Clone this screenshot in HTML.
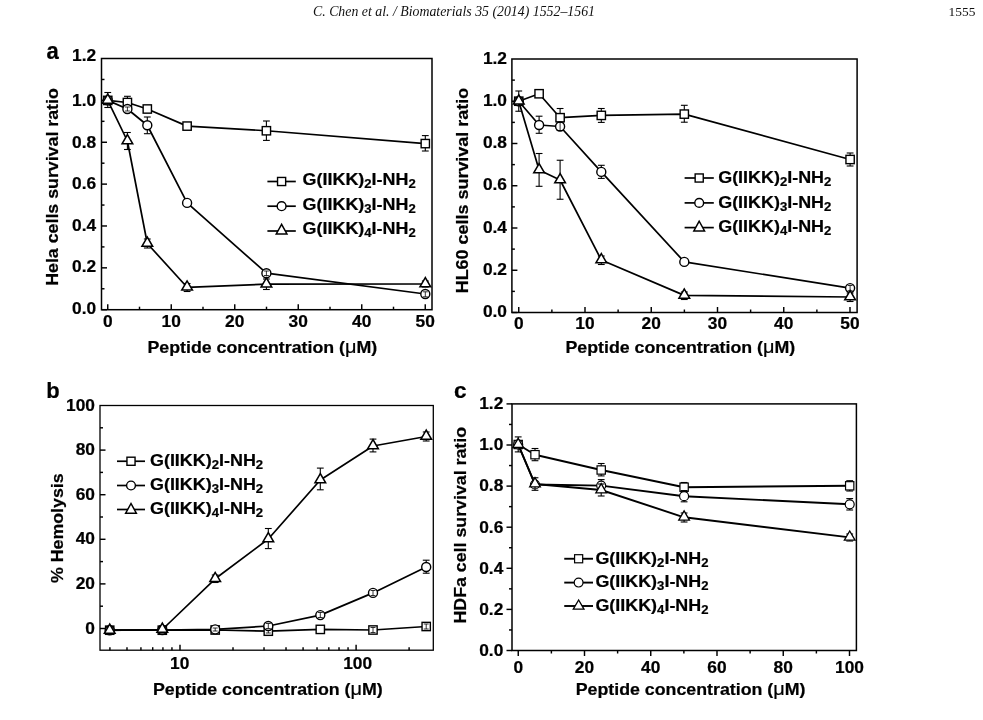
<!DOCTYPE html>
<html><head><meta charset="utf-8"><title>Figure</title>
<style>html,body{margin:0;padding:0;background:#fff}svg{display:block}</style></head><body>
<svg width="983" height="720" viewBox="0 0 983 720">
<rect width="983" height="720" fill="#fff"/>
<text transform="translate(313.00,15.80)" text-anchor="start" font-family='"Liberation Serif", serif' font-size="15" font-weight="normal" font-style="italic" textLength="282" lengthAdjust="spacingAndGlyphs" fill="#111">C. Chen et al. / Biomaterials 35 (2014) 1552–1561</text>
<text transform="translate(975.40,15.90)" text-anchor="end" font-family='"Liberation Serif", serif' font-size="13.4" font-weight="normal" font-style="normal" fill="#111">1555</text>
<text transform="translate(46.50,58.90) scale(0.94,1)" text-anchor="start" font-family='"Liberation Sans", sans-serif' font-size="23.5" font-weight="bold" font-style="normal" stroke="#000" stroke-width="0.22" >a</text>
<rect x="101.5" y="58.5" width="330.5" height="251.2" fill="none" stroke="#000" stroke-width="1.5"/>
<line x1="107.75" y1="309.70" x2="107.75" y2="304.20" stroke="#000" stroke-width="1.45"/>
<text transform="translate(107.75,326.50) scale(1.02,1)" text-anchor="middle" font-family='"Liberation Sans", sans-serif' font-size="17" font-weight="bold" font-style="normal" stroke="#000" stroke-width="0.22" >0</text>
<line x1="139.50" y1="309.70" x2="139.50" y2="306.70" stroke="#000" stroke-width="1.45"/>
<line x1="171.25" y1="309.70" x2="171.25" y2="304.20" stroke="#000" stroke-width="1.45"/>
<text transform="translate(171.25,326.50) scale(1.02,1)" text-anchor="middle" font-family='"Liberation Sans", sans-serif' font-size="17" font-weight="bold" font-style="normal" stroke="#000" stroke-width="0.22" >10</text>
<line x1="203.00" y1="309.70" x2="203.00" y2="306.70" stroke="#000" stroke-width="1.45"/>
<line x1="234.75" y1="309.70" x2="234.75" y2="304.20" stroke="#000" stroke-width="1.45"/>
<text transform="translate(234.75,326.50) scale(1.02,1)" text-anchor="middle" font-family='"Liberation Sans", sans-serif' font-size="17" font-weight="bold" font-style="normal" stroke="#000" stroke-width="0.22" >20</text>
<line x1="266.50" y1="309.70" x2="266.50" y2="306.70" stroke="#000" stroke-width="1.45"/>
<line x1="298.25" y1="309.70" x2="298.25" y2="304.20" stroke="#000" stroke-width="1.45"/>
<text transform="translate(298.25,326.50) scale(1.02,1)" text-anchor="middle" font-family='"Liberation Sans", sans-serif' font-size="17" font-weight="bold" font-style="normal" stroke="#000" stroke-width="0.22" >30</text>
<line x1="330.00" y1="309.70" x2="330.00" y2="306.70" stroke="#000" stroke-width="1.45"/>
<line x1="361.75" y1="309.70" x2="361.75" y2="304.20" stroke="#000" stroke-width="1.45"/>
<text transform="translate(361.75,326.50) scale(1.02,1)" text-anchor="middle" font-family='"Liberation Sans", sans-serif' font-size="17" font-weight="bold" font-style="normal" stroke="#000" stroke-width="0.22" >40</text>
<line x1="393.50" y1="309.70" x2="393.50" y2="306.70" stroke="#000" stroke-width="1.45"/>
<line x1="425.25" y1="309.70" x2="425.25" y2="304.20" stroke="#000" stroke-width="1.45"/>
<text transform="translate(425.25,326.50) scale(1.02,1)" text-anchor="middle" font-family='"Liberation Sans", sans-serif' font-size="17" font-weight="bold" font-style="normal" stroke="#000" stroke-width="0.22" >50</text>
<line x1="101.50" y1="309.70" x2="107.00" y2="309.70" stroke="#000" stroke-width="1.45"/>
<text transform="translate(96.20,313.70) scale(1.02,1)" text-anchor="end" font-family='"Liberation Sans", sans-serif' font-size="17" font-weight="bold" font-style="normal" stroke="#000" stroke-width="0.22" >0.0</text>
<line x1="101.50" y1="288.77" x2="104.50" y2="288.77" stroke="#000" stroke-width="1.45"/>
<line x1="101.50" y1="267.84" x2="107.00" y2="267.84" stroke="#000" stroke-width="1.45"/>
<text transform="translate(96.20,271.84) scale(1.02,1)" text-anchor="end" font-family='"Liberation Sans", sans-serif' font-size="17" font-weight="bold" font-style="normal" stroke="#000" stroke-width="0.22" >0.2</text>
<line x1="101.50" y1="246.91" x2="104.50" y2="246.91" stroke="#000" stroke-width="1.45"/>
<line x1="101.50" y1="225.98" x2="107.00" y2="225.98" stroke="#000" stroke-width="1.45"/>
<text transform="translate(96.20,230.58) scale(1.02,1)" text-anchor="end" font-family='"Liberation Sans", sans-serif' font-size="17" font-weight="bold" font-style="normal" stroke="#000" stroke-width="0.22" >0.4</text>
<line x1="101.50" y1="205.05" x2="104.50" y2="205.05" stroke="#000" stroke-width="1.45"/>
<line x1="101.50" y1="184.12" x2="107.00" y2="184.12" stroke="#000" stroke-width="1.45"/>
<text transform="translate(96.20,189.32) scale(1.02,1)" text-anchor="end" font-family='"Liberation Sans", sans-serif' font-size="17" font-weight="bold" font-style="normal" stroke="#000" stroke-width="0.22" >0.6</text>
<line x1="101.50" y1="163.19" x2="104.50" y2="163.19" stroke="#000" stroke-width="1.45"/>
<line x1="101.50" y1="142.26" x2="107.00" y2="142.26" stroke="#000" stroke-width="1.45"/>
<text transform="translate(96.20,147.56) scale(1.02,1)" text-anchor="end" font-family='"Liberation Sans", sans-serif' font-size="17" font-weight="bold" font-style="normal" stroke="#000" stroke-width="0.22" >0.8</text>
<line x1="101.50" y1="121.33" x2="104.50" y2="121.33" stroke="#000" stroke-width="1.45"/>
<line x1="101.50" y1="100.40" x2="107.00" y2="100.40" stroke="#000" stroke-width="1.45"/>
<text transform="translate(96.20,105.70) scale(1.02,1)" text-anchor="end" font-family='"Liberation Sans", sans-serif' font-size="17" font-weight="bold" font-style="normal" stroke="#000" stroke-width="0.22" >1.0</text>
<line x1="101.50" y1="79.47" x2="104.50" y2="79.47" stroke="#000" stroke-width="1.45"/>
<text transform="translate(96.20,61.34) scale(1.02,1)" text-anchor="end" font-family='"Liberation Sans", sans-serif' font-size="17" font-weight="bold" font-style="normal" stroke="#000" stroke-width="0.22" >1.2</text>
<text transform="translate(147.50,353.00) scale(1.078,1)" text-anchor="start" font-family='"Liberation Sans", sans-serif' font-size="16.5" font-weight="bold" font-style="normal" stroke="#000" stroke-width="0.22" >Peptide concentration (<tspan font-weight="normal" font-size="18.5">μ</tspan>M)</text>
<text transform="translate(57.60,285.80) rotate(-90) scale(1.078,1)" text-anchor="start" font-family='"Liberation Sans", sans-serif' font-size="16.5" font-weight="bold" font-style="normal" stroke="#000" stroke-width="0.22" >Hela cells survival ratio</text>
<polyline points="107.75,100.40 127.40,102.50 147.30,109.00 187.10,126.10 266.40,130.75 425.30,143.60" fill="none" stroke="#000" stroke-width="1.7" stroke-linejoin="round"/>
<line x1="127.40" y1="96.30" x2="127.40" y2="108.00" stroke="#000" stroke-width="1.1"/>
<line x1="124.00" y1="96.30" x2="130.80" y2="96.30" stroke="#000" stroke-width="1.1"/>
<line x1="124.00" y1="108.00" x2="130.80" y2="108.00" stroke="#000" stroke-width="1.1"/>
<line x1="147.30" y1="105.50" x2="147.30" y2="112.50" stroke="#000" stroke-width="1.1"/>
<line x1="143.90" y1="105.50" x2="150.70" y2="105.50" stroke="#000" stroke-width="1.1"/>
<line x1="143.90" y1="112.50" x2="150.70" y2="112.50" stroke="#000" stroke-width="1.1"/>
<line x1="187.10" y1="123.50" x2="187.10" y2="129.00" stroke="#000" stroke-width="1.1"/>
<line x1="183.70" y1="123.50" x2="190.50" y2="123.50" stroke="#000" stroke-width="1.1"/>
<line x1="183.70" y1="129.00" x2="190.50" y2="129.00" stroke="#000" stroke-width="1.1"/>
<line x1="266.40" y1="121.00" x2="266.40" y2="140.40" stroke="#000" stroke-width="1.1"/>
<line x1="263.00" y1="121.00" x2="269.80" y2="121.00" stroke="#000" stroke-width="1.1"/>
<line x1="263.00" y1="140.40" x2="269.80" y2="140.40" stroke="#000" stroke-width="1.1"/>
<line x1="425.30" y1="135.60" x2="425.30" y2="151.00" stroke="#000" stroke-width="1.1"/>
<line x1="421.90" y1="135.60" x2="428.70" y2="135.60" stroke="#000" stroke-width="1.1"/>
<line x1="421.90" y1="151.00" x2="428.70" y2="151.00" stroke="#000" stroke-width="1.1"/>
<rect x="103.60" y="96.25" width="8.3" height="8.3" fill="#fff" stroke="#000" stroke-width="1.4"/>
<rect x="123.25" y="98.35" width="8.3" height="8.3" fill="#fff" stroke="#000" stroke-width="1.4"/>
<rect x="143.15" y="104.85" width="8.3" height="8.3" fill="#fff" stroke="#000" stroke-width="1.4"/>
<rect x="182.95" y="121.95" width="8.3" height="8.3" fill="#fff" stroke="#000" stroke-width="1.4"/>
<rect x="262.25" y="126.60" width="8.3" height="8.3" fill="#fff" stroke="#000" stroke-width="1.4"/>
<rect x="421.15" y="139.45" width="8.3" height="8.3" fill="#fff" stroke="#000" stroke-width="1.4"/>
<polyline points="107.75,100.40 127.40,109.00 147.30,125.25 187.10,202.90 266.40,273.20 425.30,294.00" fill="none" stroke="#000" stroke-width="1.7" stroke-linejoin="round"/>
<line x1="127.40" y1="107.00" x2="127.40" y2="111.00" stroke="#000" stroke-width="1.1"/>
<line x1="124.00" y1="107.00" x2="130.80" y2="107.00" stroke="#000" stroke-width="1.1"/>
<line x1="124.00" y1="111.00" x2="130.80" y2="111.00" stroke="#000" stroke-width="1.1"/>
<line x1="147.30" y1="117.00" x2="147.30" y2="133.70" stroke="#000" stroke-width="1.1"/>
<line x1="143.90" y1="117.00" x2="150.70" y2="117.00" stroke="#000" stroke-width="1.1"/>
<line x1="143.90" y1="133.70" x2="150.70" y2="133.70" stroke="#000" stroke-width="1.1"/>
<line x1="266.40" y1="271.00" x2="266.40" y2="275.50" stroke="#000" stroke-width="1.1"/>
<line x1="263.00" y1="271.00" x2="269.80" y2="271.00" stroke="#000" stroke-width="1.1"/>
<line x1="263.00" y1="275.50" x2="269.80" y2="275.50" stroke="#000" stroke-width="1.1"/>
<line x1="425.30" y1="291.80" x2="425.30" y2="296.80" stroke="#000" stroke-width="1.1"/>
<line x1="421.90" y1="291.80" x2="428.70" y2="291.80" stroke="#000" stroke-width="1.1"/>
<line x1="421.90" y1="296.80" x2="428.70" y2="296.80" stroke="#000" stroke-width="1.1"/>
<circle cx="107.75" cy="100.40" r="4.5" fill="#fff" stroke="#000" stroke-width="1.4"/>
<circle cx="127.40" cy="109.00" r="4.5" fill="#fff" stroke="#000" stroke-width="1.4"/>
<circle cx="147.30" cy="125.25" r="4.5" fill="#fff" stroke="#000" stroke-width="1.4"/>
<circle cx="187.10" cy="202.90" r="4.5" fill="#fff" stroke="#000" stroke-width="1.4"/>
<circle cx="266.40" cy="273.20" r="4.5" fill="#fff" stroke="#000" stroke-width="1.4"/>
<circle cx="425.30" cy="294.00" r="4.5" fill="#fff" stroke="#000" stroke-width="1.4"/>
<line x1="127.40" y1="107.00" x2="127.40" y2="111.00" stroke="#000" stroke-width="0.8"/>
<line x1="124.90" y1="107.00" x2="129.90" y2="107.00" stroke="#000" stroke-width="0.8"/>
<line x1="124.90" y1="111.00" x2="129.90" y2="111.00" stroke="#000" stroke-width="0.8"/>
<line x1="266.40" y1="271.00" x2="266.40" y2="275.50" stroke="#000" stroke-width="0.8"/>
<line x1="263.90" y1="271.00" x2="268.90" y2="271.00" stroke="#000" stroke-width="0.8"/>
<line x1="263.90" y1="275.50" x2="268.90" y2="275.50" stroke="#000" stroke-width="0.8"/>
<line x1="425.30" y1="291.80" x2="425.30" y2="296.80" stroke="#000" stroke-width="0.8"/>
<line x1="422.80" y1="291.80" x2="427.80" y2="291.80" stroke="#000" stroke-width="0.8"/>
<line x1="422.80" y1="296.80" x2="427.80" y2="296.80" stroke="#000" stroke-width="0.8"/>
<polyline points="107.75,100.40 127.40,141.00 147.30,243.50 187.10,287.30 266.40,284.20 425.30,284.00" fill="none" stroke="#000" stroke-width="1.7" stroke-linejoin="round"/>
<line x1="107.75" y1="92.50" x2="107.75" y2="107.50" stroke="#000" stroke-width="1.1"/>
<line x1="104.35" y1="92.50" x2="111.15" y2="92.50" stroke="#000" stroke-width="1.1"/>
<line x1="104.35" y1="107.50" x2="111.15" y2="107.50" stroke="#000" stroke-width="1.1"/>
<line x1="127.40" y1="132.50" x2="127.40" y2="149.50" stroke="#000" stroke-width="1.1"/>
<line x1="124.00" y1="132.50" x2="130.80" y2="132.50" stroke="#000" stroke-width="1.1"/>
<line x1="124.00" y1="149.50" x2="130.80" y2="149.50" stroke="#000" stroke-width="1.1"/>
<line x1="147.30" y1="239.00" x2="147.30" y2="248.00" stroke="#000" stroke-width="1.1"/>
<line x1="143.90" y1="239.00" x2="150.70" y2="239.00" stroke="#000" stroke-width="1.1"/>
<line x1="143.90" y1="248.00" x2="150.70" y2="248.00" stroke="#000" stroke-width="1.1"/>
<line x1="187.10" y1="283.50" x2="187.10" y2="291.50" stroke="#000" stroke-width="1.1"/>
<line x1="183.70" y1="283.50" x2="190.50" y2="283.50" stroke="#000" stroke-width="1.1"/>
<line x1="183.70" y1="291.50" x2="190.50" y2="291.50" stroke="#000" stroke-width="1.1"/>
<line x1="266.40" y1="279.00" x2="266.40" y2="289.50" stroke="#000" stroke-width="1.1"/>
<line x1="263.00" y1="279.00" x2="269.80" y2="279.00" stroke="#000" stroke-width="1.1"/>
<line x1="263.00" y1="289.50" x2="269.80" y2="289.50" stroke="#000" stroke-width="1.1"/>
<line x1="425.30" y1="281.00" x2="425.30" y2="287.00" stroke="#000" stroke-width="1.1"/>
<line x1="421.90" y1="281.00" x2="428.70" y2="281.00" stroke="#000" stroke-width="1.1"/>
<line x1="421.90" y1="287.00" x2="428.70" y2="287.00" stroke="#000" stroke-width="1.1"/>
<polygon points="107.75,94.00 102.40,103.20 113.10,103.20" fill="#fff" stroke="#000" stroke-width="1.5" stroke-linejoin="miter"/>
<polygon points="127.40,134.60 122.05,143.80 132.75,143.80" fill="#fff" stroke="#000" stroke-width="1.5" stroke-linejoin="miter"/>
<polygon points="147.30,237.10 141.95,246.30 152.65,246.30" fill="#fff" stroke="#000" stroke-width="1.5" stroke-linejoin="miter"/>
<polygon points="187.10,280.90 181.75,290.10 192.45,290.10" fill="#fff" stroke="#000" stroke-width="1.5" stroke-linejoin="miter"/>
<polygon points="266.40,277.80 261.05,287.00 271.75,287.00" fill="#fff" stroke="#000" stroke-width="1.5" stroke-linejoin="miter"/>
<polygon points="425.30,277.60 419.95,286.80 430.65,286.80" fill="#fff" stroke="#000" stroke-width="1.5" stroke-linejoin="miter"/>
<line x1="267.40" y1="181.50" x2="295.80" y2="181.50" stroke="#000" stroke-width="1.7"/>
<rect x="277.55" y="177.45" width="8.1" height="8.1" fill="#fff" stroke="#000" stroke-width="1.4"/>
<text transform="translate(302.60,184.80) scale(1.067,1)" text-anchor="start" font-family='"Liberation Sans", sans-serif' font-size="16.8" font-weight="bold" font-style="normal" stroke="#000" stroke-width="0.22" >G(IIKK)<tspan font-size="12.3" dy="3.3">2</tspan><tspan dy="-3.3">I-NH</tspan><tspan font-size="12.3" dy="3.3">2</tspan></text>
<line x1="267.40" y1="206.20" x2="295.80" y2="206.20" stroke="#000" stroke-width="1.7"/>
<circle cx="281.60" cy="206.20" r="4.4" fill="#fff" stroke="#000" stroke-width="1.4"/>
<text transform="translate(302.60,209.50) scale(1.067,1)" text-anchor="start" font-family='"Liberation Sans", sans-serif' font-size="16.8" font-weight="bold" font-style="normal" stroke="#000" stroke-width="0.22" >G(IIKK)<tspan font-size="12.3" dy="3.3">3</tspan><tspan dy="-3.3">I-NH</tspan><tspan font-size="12.3" dy="3.3">2</tspan></text>
<line x1="267.40" y1="231.00" x2="295.80" y2="231.00" stroke="#000" stroke-width="1.7"/>
<polygon points="281.60,224.30 276.25,234.00 286.95,234.00" fill="#fff" stroke="#000" stroke-width="1.5" stroke-linejoin="miter"/>
<text transform="translate(302.60,234.00) scale(1.067,1)" text-anchor="start" font-family='"Liberation Sans", sans-serif' font-size="16.8" font-weight="bold" font-style="normal" stroke="#000" stroke-width="0.22" >G(IIKK)<tspan font-size="12.3" dy="3.3">4</tspan><tspan dy="-3.3">I-NH</tspan><tspan font-size="12.3" dy="3.3">2</tspan></text>
<rect x="511.9" y="59" width="345.20000000000005" height="253.5" fill="none" stroke="#000" stroke-width="1.5"/>
<line x1="518.75" y1="312.50" x2="518.75" y2="307.00" stroke="#000" stroke-width="1.45"/>
<text transform="translate(518.75,329.30) scale(1.02,1)" text-anchor="middle" font-family='"Liberation Sans", sans-serif' font-size="17" font-weight="bold" font-style="normal" stroke="#000" stroke-width="0.22" >0</text>
<line x1="551.88" y1="312.50" x2="551.88" y2="309.50" stroke="#000" stroke-width="1.45"/>
<line x1="585.00" y1="312.50" x2="585.00" y2="307.00" stroke="#000" stroke-width="1.45"/>
<text transform="translate(585.00,329.30) scale(1.02,1)" text-anchor="middle" font-family='"Liberation Sans", sans-serif' font-size="17" font-weight="bold" font-style="normal" stroke="#000" stroke-width="0.22" >10</text>
<line x1="618.12" y1="312.50" x2="618.12" y2="309.50" stroke="#000" stroke-width="1.45"/>
<line x1="651.25" y1="312.50" x2="651.25" y2="307.00" stroke="#000" stroke-width="1.45"/>
<text transform="translate(651.25,329.30) scale(1.02,1)" text-anchor="middle" font-family='"Liberation Sans", sans-serif' font-size="17" font-weight="bold" font-style="normal" stroke="#000" stroke-width="0.22" >20</text>
<line x1="684.38" y1="312.50" x2="684.38" y2="309.50" stroke="#000" stroke-width="1.45"/>
<line x1="717.50" y1="312.50" x2="717.50" y2="307.00" stroke="#000" stroke-width="1.45"/>
<text transform="translate(717.50,329.30) scale(1.02,1)" text-anchor="middle" font-family='"Liberation Sans", sans-serif' font-size="17" font-weight="bold" font-style="normal" stroke="#000" stroke-width="0.22" >30</text>
<line x1="750.62" y1="312.50" x2="750.62" y2="309.50" stroke="#000" stroke-width="1.45"/>
<line x1="783.75" y1="312.50" x2="783.75" y2="307.00" stroke="#000" stroke-width="1.45"/>
<text transform="translate(783.75,329.30) scale(1.02,1)" text-anchor="middle" font-family='"Liberation Sans", sans-serif' font-size="17" font-weight="bold" font-style="normal" stroke="#000" stroke-width="0.22" >40</text>
<line x1="816.88" y1="312.50" x2="816.88" y2="309.50" stroke="#000" stroke-width="1.45"/>
<line x1="850.00" y1="312.50" x2="850.00" y2="307.00" stroke="#000" stroke-width="1.45"/>
<text transform="translate(850.00,329.30) scale(1.02,1)" text-anchor="middle" font-family='"Liberation Sans", sans-serif' font-size="17" font-weight="bold" font-style="normal" stroke="#000" stroke-width="0.22" >50</text>
<line x1="511.90" y1="312.50" x2="517.40" y2="312.50" stroke="#000" stroke-width="1.45"/>
<text transform="translate(507.00,317.10) scale(1.02,1)" text-anchor="end" font-family='"Liberation Sans", sans-serif' font-size="17" font-weight="bold" font-style="normal" stroke="#000" stroke-width="0.22" >0.0</text>
<line x1="511.90" y1="291.38" x2="514.90" y2="291.38" stroke="#000" stroke-width="1.45"/>
<line x1="511.90" y1="270.25" x2="517.40" y2="270.25" stroke="#000" stroke-width="1.45"/>
<text transform="translate(507.00,274.85) scale(1.02,1)" text-anchor="end" font-family='"Liberation Sans", sans-serif' font-size="17" font-weight="bold" font-style="normal" stroke="#000" stroke-width="0.22" >0.2</text>
<line x1="511.90" y1="249.12" x2="514.90" y2="249.12" stroke="#000" stroke-width="1.45"/>
<line x1="511.90" y1="228.00" x2="517.40" y2="228.00" stroke="#000" stroke-width="1.45"/>
<text transform="translate(507.00,232.60) scale(1.02,1)" text-anchor="end" font-family='"Liberation Sans", sans-serif' font-size="17" font-weight="bold" font-style="normal" stroke="#000" stroke-width="0.22" >0.4</text>
<line x1="511.90" y1="206.88" x2="514.90" y2="206.88" stroke="#000" stroke-width="1.45"/>
<line x1="511.90" y1="185.75" x2="517.40" y2="185.75" stroke="#000" stroke-width="1.45"/>
<text transform="translate(507.00,190.35) scale(1.02,1)" text-anchor="end" font-family='"Liberation Sans", sans-serif' font-size="17" font-weight="bold" font-style="normal" stroke="#000" stroke-width="0.22" >0.6</text>
<line x1="511.90" y1="164.62" x2="514.90" y2="164.62" stroke="#000" stroke-width="1.45"/>
<line x1="511.90" y1="143.50" x2="517.40" y2="143.50" stroke="#000" stroke-width="1.45"/>
<text transform="translate(507.00,148.10) scale(1.02,1)" text-anchor="end" font-family='"Liberation Sans", sans-serif' font-size="17" font-weight="bold" font-style="normal" stroke="#000" stroke-width="0.22" >0.8</text>
<line x1="511.90" y1="122.38" x2="514.90" y2="122.38" stroke="#000" stroke-width="1.45"/>
<line x1="511.90" y1="101.25" x2="517.40" y2="101.25" stroke="#000" stroke-width="1.45"/>
<text transform="translate(507.00,105.85) scale(1.02,1)" text-anchor="end" font-family='"Liberation Sans", sans-serif' font-size="17" font-weight="bold" font-style="normal" stroke="#000" stroke-width="0.22" >1.0</text>
<line x1="511.90" y1="80.12" x2="514.90" y2="80.12" stroke="#000" stroke-width="1.45"/>
<text transform="translate(507.00,63.60) scale(1.02,1)" text-anchor="end" font-family='"Liberation Sans", sans-serif' font-size="17" font-weight="bold" font-style="normal" stroke="#000" stroke-width="0.22" >1.2</text>
<text transform="translate(565.50,353.40) scale(1.078,1)" text-anchor="start" font-family='"Liberation Sans", sans-serif' font-size="16.5" font-weight="bold" font-style="normal" stroke="#000" stroke-width="0.22" >Peptide concentration (<tspan font-weight="normal" font-size="18.5">μ</tspan>M)</text>
<text transform="translate(467.70,293.30) rotate(-90) scale(1.088,1)" text-anchor="start" font-family='"Liberation Sans", sans-serif' font-size="16.5" font-weight="bold" font-style="normal" stroke="#000" stroke-width="0.22" >HL60 cells survival ratio</text>
<polyline points="518.75,101.20 539.10,93.75 560.10,117.70 601.30,115.40 684.30,114.10 850.10,159.50" fill="none" stroke="#000" stroke-width="1.7" stroke-linejoin="round"/>
<line x1="560.10" y1="108.50" x2="560.10" y2="127.00" stroke="#000" stroke-width="1.1"/>
<line x1="556.70" y1="108.50" x2="563.50" y2="108.50" stroke="#000" stroke-width="1.1"/>
<line x1="556.70" y1="127.00" x2="563.50" y2="127.00" stroke="#000" stroke-width="1.1"/>
<line x1="601.30" y1="108.50" x2="601.30" y2="122.40" stroke="#000" stroke-width="1.1"/>
<line x1="597.90" y1="108.50" x2="604.70" y2="108.50" stroke="#000" stroke-width="1.1"/>
<line x1="597.90" y1="122.40" x2="604.70" y2="122.40" stroke="#000" stroke-width="1.1"/>
<line x1="684.30" y1="105.30" x2="684.30" y2="122.20" stroke="#000" stroke-width="1.1"/>
<line x1="680.90" y1="105.30" x2="687.70" y2="105.30" stroke="#000" stroke-width="1.1"/>
<line x1="680.90" y1="122.20" x2="687.70" y2="122.20" stroke="#000" stroke-width="1.1"/>
<line x1="850.10" y1="153.00" x2="850.10" y2="166.00" stroke="#000" stroke-width="1.1"/>
<line x1="846.70" y1="153.00" x2="853.50" y2="153.00" stroke="#000" stroke-width="1.1"/>
<line x1="846.70" y1="166.00" x2="853.50" y2="166.00" stroke="#000" stroke-width="1.1"/>
<rect x="514.60" y="97.05" width="8.3" height="8.3" fill="#fff" stroke="#000" stroke-width="1.4"/>
<rect x="534.95" y="89.60" width="8.3" height="8.3" fill="#fff" stroke="#000" stroke-width="1.4"/>
<rect x="555.95" y="113.55" width="8.3" height="8.3" fill="#fff" stroke="#000" stroke-width="1.4"/>
<rect x="597.15" y="111.25" width="8.3" height="8.3" fill="#fff" stroke="#000" stroke-width="1.4"/>
<rect x="680.15" y="109.95" width="8.3" height="8.3" fill="#fff" stroke="#000" stroke-width="1.4"/>
<rect x="845.95" y="155.35" width="8.3" height="8.3" fill="#fff" stroke="#000" stroke-width="1.4"/>
<polyline points="518.75,101.20 539.10,125.00 560.10,126.50 601.30,171.90 684.30,261.90 850.10,288.10" fill="none" stroke="#000" stroke-width="1.7" stroke-linejoin="round"/>
<line x1="539.10" y1="116.20" x2="539.10" y2="133.30" stroke="#000" stroke-width="1.1"/>
<line x1="535.70" y1="116.20" x2="542.50" y2="116.20" stroke="#000" stroke-width="1.1"/>
<line x1="535.70" y1="133.30" x2="542.50" y2="133.30" stroke="#000" stroke-width="1.1"/>
<line x1="560.10" y1="122.50" x2="560.10" y2="130.50" stroke="#000" stroke-width="1.1"/>
<line x1="556.70" y1="122.50" x2="563.50" y2="122.50" stroke="#000" stroke-width="1.1"/>
<line x1="556.70" y1="130.50" x2="563.50" y2="130.50" stroke="#000" stroke-width="1.1"/>
<line x1="601.30" y1="165.30" x2="601.30" y2="178.40" stroke="#000" stroke-width="1.1"/>
<line x1="597.90" y1="165.30" x2="604.70" y2="165.30" stroke="#000" stroke-width="1.1"/>
<line x1="597.90" y1="178.40" x2="604.70" y2="178.40" stroke="#000" stroke-width="1.1"/>
<line x1="850.10" y1="285.50" x2="850.10" y2="290.70" stroke="#000" stroke-width="1.1"/>
<line x1="846.70" y1="285.50" x2="853.50" y2="285.50" stroke="#000" stroke-width="1.1"/>
<line x1="846.70" y1="290.70" x2="853.50" y2="290.70" stroke="#000" stroke-width="1.1"/>
<circle cx="518.75" cy="101.20" r="4.5" fill="#fff" stroke="#000" stroke-width="1.4"/>
<circle cx="539.10" cy="125.00" r="4.5" fill="#fff" stroke="#000" stroke-width="1.4"/>
<circle cx="560.10" cy="126.50" r="4.5" fill="#fff" stroke="#000" stroke-width="1.4"/>
<circle cx="601.30" cy="171.90" r="4.5" fill="#fff" stroke="#000" stroke-width="1.4"/>
<circle cx="684.30" cy="261.90" r="4.5" fill="#fff" stroke="#000" stroke-width="1.4"/>
<circle cx="850.10" cy="288.10" r="4.5" fill="#fff" stroke="#000" stroke-width="1.4"/>
<line x1="560.10" y1="122.50" x2="560.10" y2="130.50" stroke="#000" stroke-width="0.8"/>
<line x1="557.60" y1="122.50" x2="562.60" y2="122.50" stroke="#000" stroke-width="0.8"/>
<line x1="557.60" y1="130.50" x2="562.60" y2="130.50" stroke="#000" stroke-width="0.8"/>
<line x1="850.10" y1="285.50" x2="850.10" y2="290.70" stroke="#000" stroke-width="0.8"/>
<line x1="847.60" y1="285.50" x2="852.60" y2="285.50" stroke="#000" stroke-width="0.8"/>
<line x1="847.60" y1="290.70" x2="852.60" y2="290.70" stroke="#000" stroke-width="0.8"/>
<polyline points="518.75,101.20 539.10,170.00 560.10,180.00 601.30,260.00 684.30,295.40 850.10,297.00" fill="none" stroke="#000" stroke-width="1.7" stroke-linejoin="round"/>
<line x1="518.75" y1="91.00" x2="518.75" y2="111.25" stroke="#000" stroke-width="1.1"/>
<line x1="515.35" y1="91.00" x2="522.15" y2="91.00" stroke="#000" stroke-width="1.1"/>
<line x1="515.35" y1="111.25" x2="522.15" y2="111.25" stroke="#000" stroke-width="1.1"/>
<line x1="539.10" y1="153.50" x2="539.10" y2="186.30" stroke="#000" stroke-width="1.1"/>
<line x1="535.70" y1="153.50" x2="542.50" y2="153.50" stroke="#000" stroke-width="1.1"/>
<line x1="535.70" y1="186.30" x2="542.50" y2="186.30" stroke="#000" stroke-width="1.1"/>
<line x1="560.10" y1="160.25" x2="560.10" y2="199.25" stroke="#000" stroke-width="1.1"/>
<line x1="556.70" y1="160.25" x2="563.50" y2="160.25" stroke="#000" stroke-width="1.1"/>
<line x1="556.70" y1="199.25" x2="563.50" y2="199.25" stroke="#000" stroke-width="1.1"/>
<line x1="601.30" y1="256.00" x2="601.30" y2="264.50" stroke="#000" stroke-width="1.1"/>
<line x1="597.90" y1="256.00" x2="604.70" y2="256.00" stroke="#000" stroke-width="1.1"/>
<line x1="597.90" y1="264.50" x2="604.70" y2="264.50" stroke="#000" stroke-width="1.1"/>
<line x1="684.30" y1="292.00" x2="684.30" y2="299.50" stroke="#000" stroke-width="1.1"/>
<line x1="680.90" y1="292.00" x2="687.70" y2="292.00" stroke="#000" stroke-width="1.1"/>
<line x1="680.90" y1="299.50" x2="687.70" y2="299.50" stroke="#000" stroke-width="1.1"/>
<line x1="850.10" y1="293.00" x2="850.10" y2="301.50" stroke="#000" stroke-width="1.1"/>
<line x1="846.70" y1="293.00" x2="853.50" y2="293.00" stroke="#000" stroke-width="1.1"/>
<line x1="846.70" y1="301.50" x2="853.50" y2="301.50" stroke="#000" stroke-width="1.1"/>
<polygon points="518.75,94.80 513.40,104.00 524.10,104.00" fill="#fff" stroke="#000" stroke-width="1.5" stroke-linejoin="miter"/>
<polygon points="539.10,163.60 533.75,172.80 544.45,172.80" fill="#fff" stroke="#000" stroke-width="1.5" stroke-linejoin="miter"/>
<polygon points="560.10,173.60 554.75,182.80 565.45,182.80" fill="#fff" stroke="#000" stroke-width="1.5" stroke-linejoin="miter"/>
<polygon points="601.30,253.60 595.95,262.80 606.65,262.80" fill="#fff" stroke="#000" stroke-width="1.5" stroke-linejoin="miter"/>
<polygon points="684.30,289.00 678.95,298.20 689.65,298.20" fill="#fff" stroke="#000" stroke-width="1.5" stroke-linejoin="miter"/>
<polygon points="850.10,290.60 844.75,299.80 855.45,299.80" fill="#fff" stroke="#000" stroke-width="1.5" stroke-linejoin="miter"/>
<line x1="684.60" y1="178.00" x2="713.80" y2="178.00" stroke="#000" stroke-width="1.7"/>
<rect x="695.15" y="173.95" width="8.1" height="8.1" fill="#fff" stroke="#000" stroke-width="1.4"/>
<text transform="translate(718.20,182.80) scale(1.067,1)" text-anchor="start" font-family='"Liberation Sans", sans-serif' font-size="16.8" font-weight="bold" font-style="normal" stroke="#000" stroke-width="0.22" >G(IIKK)<tspan font-size="12.3" dy="3.3">2</tspan><tspan dy="-3.3">I-NH</tspan><tspan font-size="12.3" dy="3.3">2</tspan></text>
<line x1="684.60" y1="202.90" x2="713.80" y2="202.90" stroke="#000" stroke-width="1.7"/>
<circle cx="699.20" cy="202.90" r="4.4" fill="#fff" stroke="#000" stroke-width="1.4"/>
<text transform="translate(718.20,207.60) scale(1.067,1)" text-anchor="start" font-family='"Liberation Sans", sans-serif' font-size="16.8" font-weight="bold" font-style="normal" stroke="#000" stroke-width="0.22" >G(IIKK)<tspan font-size="12.3" dy="3.3">3</tspan><tspan dy="-3.3">I-NH</tspan><tspan font-size="12.3" dy="3.3">2</tspan></text>
<line x1="684.60" y1="227.60" x2="713.80" y2="227.60" stroke="#000" stroke-width="1.7"/>
<polygon points="699.20,221.20 693.85,230.90 704.55,230.90" fill="#fff" stroke="#000" stroke-width="1.5" stroke-linejoin="miter"/>
<text transform="translate(718.20,231.60) scale(1.067,1)" text-anchor="start" font-family='"Liberation Sans", sans-serif' font-size="16.8" font-weight="bold" font-style="normal" stroke="#000" stroke-width="0.22" >G(IIKK)<tspan font-size="12.3" dy="3.3">4</tspan><tspan dy="-3.3">I-NH</tspan><tspan font-size="12.3" dy="3.3">2</tspan></text>
<text transform="translate(46.20,397.90) scale(0.98,1)" text-anchor="start" font-family='"Liberation Sans", sans-serif' font-size="22.4" font-weight="bold" font-style="normal" stroke="#000" stroke-width="0.22" >b</text>
<rect x="100" y="405.5" width="333.3" height="244.70000000000005" fill="none" stroke="#000" stroke-width="1.3"/>
<line x1="180.00" y1="650.20" x2="180.00" y2="644.70" stroke="#000" stroke-width="1.45"/>
<text transform="translate(179.70,668.60) scale(1.02,1)" text-anchor="middle" font-family='"Liberation Sans", sans-serif' font-size="17" font-weight="bold" font-style="normal" stroke="#000" stroke-width="0.22" >10</text>
<line x1="356.10" y1="650.20" x2="356.10" y2="644.70" stroke="#000" stroke-width="1.45"/>
<text transform="translate(357.60,668.60) scale(1.02,1)" text-anchor="middle" font-family='"Liberation Sans", sans-serif' font-size="17" font-weight="bold" font-style="normal" stroke="#000" stroke-width="0.22" >100</text>
<line x1="109.92" y1="650.20" x2="109.92" y2="647.20" stroke="#000" stroke-width="1.45"/>
<line x1="126.99" y1="650.20" x2="126.99" y2="647.20" stroke="#000" stroke-width="1.45"/>
<line x1="140.93" y1="650.20" x2="140.93" y2="647.20" stroke="#000" stroke-width="1.45"/>
<line x1="152.72" y1="650.20" x2="152.72" y2="647.20" stroke="#000" stroke-width="1.45"/>
<line x1="162.93" y1="650.20" x2="162.93" y2="647.20" stroke="#000" stroke-width="1.45"/>
<line x1="171.94" y1="650.20" x2="171.94" y2="647.20" stroke="#000" stroke-width="1.45"/>
<line x1="233.01" y1="650.20" x2="233.01" y2="647.20" stroke="#000" stroke-width="1.45"/>
<line x1="264.02" y1="650.20" x2="264.02" y2="647.20" stroke="#000" stroke-width="1.45"/>
<line x1="286.02" y1="650.20" x2="286.02" y2="647.20" stroke="#000" stroke-width="1.45"/>
<line x1="303.09" y1="650.20" x2="303.09" y2="647.20" stroke="#000" stroke-width="1.45"/>
<line x1="317.03" y1="650.20" x2="317.03" y2="647.20" stroke="#000" stroke-width="1.45"/>
<line x1="328.82" y1="650.20" x2="328.82" y2="647.20" stroke="#000" stroke-width="1.45"/>
<line x1="339.03" y1="650.20" x2="339.03" y2="647.20" stroke="#000" stroke-width="1.45"/>
<line x1="348.04" y1="650.20" x2="348.04" y2="647.20" stroke="#000" stroke-width="1.45"/>
<line x1="409.11" y1="650.20" x2="409.11" y2="647.20" stroke="#000" stroke-width="1.45"/>
<line x1="100.00" y1="628.50" x2="105.50" y2="628.50" stroke="#000" stroke-width="1.45"/>
<text transform="translate(95.00,633.60) scale(1.02,1)" text-anchor="end" font-family='"Liberation Sans", sans-serif' font-size="17" font-weight="bold" font-style="normal" stroke="#000" stroke-width="0.22" >0</text>
<line x1="100.00" y1="606.20" x2="103.00" y2="606.20" stroke="#000" stroke-width="1.45"/>
<line x1="100.00" y1="583.90" x2="105.50" y2="583.90" stroke="#000" stroke-width="1.45"/>
<text transform="translate(95.00,589.00) scale(1.02,1)" text-anchor="end" font-family='"Liberation Sans", sans-serif' font-size="17" font-weight="bold" font-style="normal" stroke="#000" stroke-width="0.22" >20</text>
<line x1="100.00" y1="561.60" x2="103.00" y2="561.60" stroke="#000" stroke-width="1.45"/>
<line x1="100.00" y1="539.30" x2="105.50" y2="539.30" stroke="#000" stroke-width="1.45"/>
<text transform="translate(95.00,544.40) scale(1.02,1)" text-anchor="end" font-family='"Liberation Sans", sans-serif' font-size="17" font-weight="bold" font-style="normal" stroke="#000" stroke-width="0.22" >40</text>
<line x1="100.00" y1="517.00" x2="103.00" y2="517.00" stroke="#000" stroke-width="1.45"/>
<line x1="100.00" y1="494.70" x2="105.50" y2="494.70" stroke="#000" stroke-width="1.45"/>
<text transform="translate(95.00,499.80) scale(1.02,1)" text-anchor="end" font-family='"Liberation Sans", sans-serif' font-size="17" font-weight="bold" font-style="normal" stroke="#000" stroke-width="0.22" >60</text>
<line x1="100.00" y1="472.40" x2="103.00" y2="472.40" stroke="#000" stroke-width="1.45"/>
<line x1="100.00" y1="450.10" x2="105.50" y2="450.10" stroke="#000" stroke-width="1.45"/>
<text transform="translate(95.00,455.20) scale(1.02,1)" text-anchor="end" font-family='"Liberation Sans", sans-serif' font-size="17" font-weight="bold" font-style="normal" stroke="#000" stroke-width="0.22" >80</text>
<line x1="100.00" y1="427.80" x2="103.00" y2="427.80" stroke="#000" stroke-width="1.45"/>
<text transform="translate(95.00,410.60) scale(1.02,1)" text-anchor="end" font-family='"Liberation Sans", sans-serif' font-size="17" font-weight="bold" font-style="normal" stroke="#000" stroke-width="0.22" >100</text>
<text transform="translate(153.00,694.70) scale(1.078,1)" text-anchor="start" font-family='"Liberation Sans", sans-serif' font-size="16.5" font-weight="bold" font-style="normal" stroke="#000" stroke-width="0.22" >Peptide concentration (<tspan font-weight="normal" font-size="18.5">μ</tspan>M)</text>
<text transform="translate(62.70,583.00) rotate(-90) scale(1.078,1)" text-anchor="start" font-family='"Liberation Sans", sans-serif' font-size="16.5" font-weight="bold" font-style="normal" stroke="#000" stroke-width="0.22" >% Hemolysis</text>
<polyline points="109.70,630.20 162.30,630.20 215.20,630.00 268.30,631.20 320.30,629.40 373.00,630.00 426.20,626.50" fill="none" stroke="#000" stroke-width="1.7" stroke-linejoin="round"/>
<line x1="268.30" y1="629.50" x2="268.30" y2="633.00" stroke="#000" stroke-width="1.1"/>
<line x1="264.90" y1="629.50" x2="271.70" y2="629.50" stroke="#000" stroke-width="1.1"/>
<line x1="264.90" y1="633.00" x2="271.70" y2="633.00" stroke="#000" stroke-width="1.1"/>
<line x1="373.00" y1="627.50" x2="373.00" y2="632.50" stroke="#000" stroke-width="1.1"/>
<line x1="369.60" y1="627.50" x2="376.40" y2="627.50" stroke="#000" stroke-width="1.1"/>
<line x1="369.60" y1="632.50" x2="376.40" y2="632.50" stroke="#000" stroke-width="1.1"/>
<line x1="426.20" y1="624.00" x2="426.20" y2="629.00" stroke="#000" stroke-width="1.1"/>
<line x1="422.80" y1="624.00" x2="429.60" y2="624.00" stroke="#000" stroke-width="1.1"/>
<line x1="422.80" y1="629.00" x2="429.60" y2="629.00" stroke="#000" stroke-width="1.1"/>
<rect x="105.55" y="626.05" width="8.3" height="8.3" fill="#fff" stroke="#000" stroke-width="1.4"/>
<rect x="158.15" y="626.05" width="8.3" height="8.3" fill="#fff" stroke="#000" stroke-width="1.4"/>
<rect x="211.05" y="625.85" width="8.3" height="8.3" fill="#fff" stroke="#000" stroke-width="1.4"/>
<rect x="264.15" y="627.05" width="8.3" height="8.3" fill="#fff" stroke="#000" stroke-width="1.4"/>
<rect x="316.15" y="625.25" width="8.3" height="8.3" fill="#fff" stroke="#000" stroke-width="1.4"/>
<rect x="368.85" y="625.85" width="8.3" height="8.3" fill="#fff" stroke="#000" stroke-width="1.4"/>
<rect x="422.05" y="622.35" width="8.3" height="8.3" fill="#fff" stroke="#000" stroke-width="1.4"/>
<line x1="268.30" y1="629.50" x2="268.30" y2="633.00" stroke="#000" stroke-width="0.8"/>
<line x1="265.80" y1="629.50" x2="270.80" y2="629.50" stroke="#000" stroke-width="0.8"/>
<line x1="265.80" y1="633.00" x2="270.80" y2="633.00" stroke="#000" stroke-width="0.8"/>
<line x1="373.00" y1="627.50" x2="373.00" y2="632.50" stroke="#000" stroke-width="0.8"/>
<line x1="370.50" y1="627.50" x2="375.50" y2="627.50" stroke="#000" stroke-width="0.8"/>
<line x1="370.50" y1="632.50" x2="375.50" y2="632.50" stroke="#000" stroke-width="0.8"/>
<line x1="426.20" y1="624.00" x2="426.20" y2="629.00" stroke="#000" stroke-width="0.8"/>
<line x1="423.70" y1="624.00" x2="428.70" y2="624.00" stroke="#000" stroke-width="0.8"/>
<line x1="423.70" y1="629.00" x2="428.70" y2="629.00" stroke="#000" stroke-width="0.8"/>
<polyline points="109.70,630.20 162.30,630.00 215.20,629.40 268.30,626.00 320.30,615.10 373.00,592.90 426.20,567.00" fill="none" stroke="#000" stroke-width="1.7" stroke-linejoin="round"/>
<line x1="215.20" y1="628.00" x2="215.20" y2="631.00" stroke="#000" stroke-width="1.1"/>
<line x1="211.80" y1="628.00" x2="218.60" y2="628.00" stroke="#000" stroke-width="1.1"/>
<line x1="211.80" y1="631.00" x2="218.60" y2="631.00" stroke="#000" stroke-width="1.1"/>
<line x1="268.30" y1="623.50" x2="268.30" y2="628.50" stroke="#000" stroke-width="1.1"/>
<line x1="264.90" y1="623.50" x2="271.70" y2="623.50" stroke="#000" stroke-width="1.1"/>
<line x1="264.90" y1="628.50" x2="271.70" y2="628.50" stroke="#000" stroke-width="1.1"/>
<line x1="320.30" y1="612.50" x2="320.30" y2="617.50" stroke="#000" stroke-width="1.1"/>
<line x1="316.90" y1="612.50" x2="323.70" y2="612.50" stroke="#000" stroke-width="1.1"/>
<line x1="316.90" y1="617.50" x2="323.70" y2="617.50" stroke="#000" stroke-width="1.1"/>
<line x1="373.00" y1="590.50" x2="373.00" y2="595.50" stroke="#000" stroke-width="1.1"/>
<line x1="369.60" y1="590.50" x2="376.40" y2="590.50" stroke="#000" stroke-width="1.1"/>
<line x1="369.60" y1="595.50" x2="376.40" y2="595.50" stroke="#000" stroke-width="1.1"/>
<line x1="426.20" y1="560.20" x2="426.20" y2="573.20" stroke="#000" stroke-width="1.1"/>
<line x1="422.80" y1="560.20" x2="429.60" y2="560.20" stroke="#000" stroke-width="1.1"/>
<line x1="422.80" y1="573.20" x2="429.60" y2="573.20" stroke="#000" stroke-width="1.1"/>
<circle cx="109.70" cy="630.20" r="4.5" fill="#fff" stroke="#000" stroke-width="1.4"/>
<circle cx="162.30" cy="630.00" r="4.5" fill="#fff" stroke="#000" stroke-width="1.4"/>
<circle cx="215.20" cy="629.40" r="4.5" fill="#fff" stroke="#000" stroke-width="1.4"/>
<circle cx="268.30" cy="626.00" r="4.5" fill="#fff" stroke="#000" stroke-width="1.4"/>
<circle cx="320.30" cy="615.10" r="4.5" fill="#fff" stroke="#000" stroke-width="1.4"/>
<circle cx="373.00" cy="592.90" r="4.5" fill="#fff" stroke="#000" stroke-width="1.4"/>
<circle cx="426.20" cy="567.00" r="4.5" fill="#fff" stroke="#000" stroke-width="1.4"/>
<line x1="215.20" y1="628.00" x2="215.20" y2="631.00" stroke="#000" stroke-width="0.8"/>
<line x1="212.70" y1="628.00" x2="217.70" y2="628.00" stroke="#000" stroke-width="0.8"/>
<line x1="212.70" y1="631.00" x2="217.70" y2="631.00" stroke="#000" stroke-width="0.8"/>
<line x1="268.30" y1="623.50" x2="268.30" y2="628.50" stroke="#000" stroke-width="0.8"/>
<line x1="265.80" y1="623.50" x2="270.80" y2="623.50" stroke="#000" stroke-width="0.8"/>
<line x1="265.80" y1="628.50" x2="270.80" y2="628.50" stroke="#000" stroke-width="0.8"/>
<line x1="320.30" y1="612.50" x2="320.30" y2="617.50" stroke="#000" stroke-width="0.8"/>
<line x1="317.80" y1="612.50" x2="322.80" y2="612.50" stroke="#000" stroke-width="0.8"/>
<line x1="317.80" y1="617.50" x2="322.80" y2="617.50" stroke="#000" stroke-width="0.8"/>
<line x1="373.00" y1="590.50" x2="373.00" y2="595.50" stroke="#000" stroke-width="0.8"/>
<line x1="370.50" y1="590.50" x2="375.50" y2="590.50" stroke="#000" stroke-width="0.8"/>
<line x1="370.50" y1="595.50" x2="375.50" y2="595.50" stroke="#000" stroke-width="0.8"/>
<polyline points="109.70,630.50 162.30,629.50 215.20,578.80 268.30,539.00 320.30,480.00 373.00,446.00 426.20,436.50" fill="none" stroke="#000" stroke-width="1.7" stroke-linejoin="round"/>
<line x1="109.70" y1="627.00" x2="109.70" y2="634.00" stroke="#000" stroke-width="1.1"/>
<line x1="106.30" y1="627.00" x2="113.10" y2="627.00" stroke="#000" stroke-width="1.1"/>
<line x1="106.30" y1="634.00" x2="113.10" y2="634.00" stroke="#000" stroke-width="1.1"/>
<line x1="162.30" y1="626.00" x2="162.30" y2="633.00" stroke="#000" stroke-width="1.1"/>
<line x1="158.90" y1="626.00" x2="165.70" y2="626.00" stroke="#000" stroke-width="1.1"/>
<line x1="158.90" y1="633.00" x2="165.70" y2="633.00" stroke="#000" stroke-width="1.1"/>
<line x1="215.20" y1="575.00" x2="215.20" y2="582.50" stroke="#000" stroke-width="1.1"/>
<line x1="211.80" y1="575.00" x2="218.60" y2="575.00" stroke="#000" stroke-width="1.1"/>
<line x1="211.80" y1="582.50" x2="218.60" y2="582.50" stroke="#000" stroke-width="1.1"/>
<line x1="268.30" y1="528.50" x2="268.30" y2="548.60" stroke="#000" stroke-width="1.1"/>
<line x1="264.90" y1="528.50" x2="271.70" y2="528.50" stroke="#000" stroke-width="1.1"/>
<line x1="264.90" y1="548.60" x2="271.70" y2="548.60" stroke="#000" stroke-width="1.1"/>
<line x1="320.30" y1="468.10" x2="320.30" y2="489.80" stroke="#000" stroke-width="1.1"/>
<line x1="316.90" y1="468.10" x2="323.70" y2="468.10" stroke="#000" stroke-width="1.1"/>
<line x1="316.90" y1="489.80" x2="323.70" y2="489.80" stroke="#000" stroke-width="1.1"/>
<line x1="373.00" y1="439.10" x2="373.00" y2="451.90" stroke="#000" stroke-width="1.1"/>
<line x1="369.60" y1="439.10" x2="376.40" y2="439.10" stroke="#000" stroke-width="1.1"/>
<line x1="369.60" y1="451.90" x2="376.40" y2="451.90" stroke="#000" stroke-width="1.1"/>
<line x1="426.20" y1="432.00" x2="426.20" y2="441.00" stroke="#000" stroke-width="1.1"/>
<line x1="422.80" y1="432.00" x2="429.60" y2="432.00" stroke="#000" stroke-width="1.1"/>
<line x1="422.80" y1="441.00" x2="429.60" y2="441.00" stroke="#000" stroke-width="1.1"/>
<polygon points="109.70,624.10 104.35,633.30 115.05,633.30" fill="#fff" stroke="#000" stroke-width="1.5" stroke-linejoin="miter"/>
<polygon points="162.30,623.10 156.95,632.30 167.65,632.30" fill="#fff" stroke="#000" stroke-width="1.5" stroke-linejoin="miter"/>
<polygon points="215.20,572.40 209.85,581.60 220.55,581.60" fill="#fff" stroke="#000" stroke-width="1.5" stroke-linejoin="miter"/>
<polygon points="268.30,532.60 262.95,541.80 273.65,541.80" fill="#fff" stroke="#000" stroke-width="1.5" stroke-linejoin="miter"/>
<polygon points="320.30,473.60 314.95,482.80 325.65,482.80" fill="#fff" stroke="#000" stroke-width="1.5" stroke-linejoin="miter"/>
<polygon points="373.00,439.60 367.65,448.80 378.35,448.80" fill="#fff" stroke="#000" stroke-width="1.5" stroke-linejoin="miter"/>
<polygon points="426.20,430.10 420.85,439.30 431.55,439.30" fill="#fff" stroke="#000" stroke-width="1.5" stroke-linejoin="miter"/>
<line x1="117.00" y1="461.25" x2="145.00" y2="461.25" stroke="#000" stroke-width="1.7"/>
<rect x="126.95" y="457.20" width="8.1" height="8.1" fill="#fff" stroke="#000" stroke-width="1.4"/>
<text transform="translate(150.00,465.50) scale(1.067,1)" text-anchor="start" font-family='"Liberation Sans", sans-serif' font-size="16.8" font-weight="bold" font-style="normal" stroke="#000" stroke-width="0.22" >G(IIKK)<tspan font-size="12.3" dy="3.3">2</tspan><tspan dy="-3.3">I-NH</tspan><tspan font-size="12.3" dy="3.3">2</tspan></text>
<line x1="117.00" y1="485.50" x2="145.00" y2="485.50" stroke="#000" stroke-width="1.7"/>
<circle cx="131.00" cy="485.50" r="4.4" fill="#fff" stroke="#000" stroke-width="1.4"/>
<text transform="translate(150.00,489.50) scale(1.067,1)" text-anchor="start" font-family='"Liberation Sans", sans-serif' font-size="16.8" font-weight="bold" font-style="normal" stroke="#000" stroke-width="0.22" >G(IIKK)<tspan font-size="12.3" dy="3.3">3</tspan><tspan dy="-3.3">I-NH</tspan><tspan font-size="12.3" dy="3.3">2</tspan></text>
<line x1="117.00" y1="509.50" x2="145.00" y2="509.50" stroke="#000" stroke-width="1.7"/>
<polygon points="131.00,503.50 125.65,513.25 136.35,513.25" fill="#fff" stroke="#000" stroke-width="1.5" stroke-linejoin="miter"/>
<text transform="translate(150.00,513.50) scale(1.067,1)" text-anchor="start" font-family='"Liberation Sans", sans-serif' font-size="16.8" font-weight="bold" font-style="normal" stroke="#000" stroke-width="0.22" >G(IIKK)<tspan font-size="12.3" dy="3.3">4</tspan><tspan dy="-3.3">I-NH</tspan><tspan font-size="12.3" dy="3.3">2</tspan></text>
<text transform="translate(454.00,398.30)" text-anchor="start" font-family='"Liberation Sans", sans-serif' font-size="22.5" font-weight="bold" font-style="normal" stroke="#000" stroke-width="0.22" >c</text>
<rect x="512" y="403.9" width="344.4" height="246.60000000000002" fill="none" stroke="#000" stroke-width="1.5"/>
<line x1="518.25" y1="650.50" x2="518.25" y2="656.00" stroke="#000" stroke-width="1.45"/>
<text transform="translate(518.25,672.50) scale(1.02,1)" text-anchor="middle" font-family='"Liberation Sans", sans-serif' font-size="17" font-weight="bold" font-style="normal" stroke="#000" stroke-width="0.22" >0</text>
<line x1="551.38" y1="650.50" x2="551.38" y2="653.50" stroke="#000" stroke-width="1.45"/>
<line x1="584.50" y1="650.50" x2="584.50" y2="656.00" stroke="#000" stroke-width="1.45"/>
<text transform="translate(584.50,672.50) scale(1.02,1)" text-anchor="middle" font-family='"Liberation Sans", sans-serif' font-size="17" font-weight="bold" font-style="normal" stroke="#000" stroke-width="0.22" >20</text>
<line x1="617.62" y1="650.50" x2="617.62" y2="653.50" stroke="#000" stroke-width="1.45"/>
<line x1="650.75" y1="650.50" x2="650.75" y2="656.00" stroke="#000" stroke-width="1.45"/>
<text transform="translate(650.75,672.50) scale(1.02,1)" text-anchor="middle" font-family='"Liberation Sans", sans-serif' font-size="17" font-weight="bold" font-style="normal" stroke="#000" stroke-width="0.22" >40</text>
<line x1="683.88" y1="650.50" x2="683.88" y2="653.50" stroke="#000" stroke-width="1.45"/>
<line x1="717.00" y1="650.50" x2="717.00" y2="656.00" stroke="#000" stroke-width="1.45"/>
<text transform="translate(717.00,672.50) scale(1.02,1)" text-anchor="middle" font-family='"Liberation Sans", sans-serif' font-size="17" font-weight="bold" font-style="normal" stroke="#000" stroke-width="0.22" >60</text>
<line x1="750.12" y1="650.50" x2="750.12" y2="653.50" stroke="#000" stroke-width="1.45"/>
<line x1="783.25" y1="650.50" x2="783.25" y2="656.00" stroke="#000" stroke-width="1.45"/>
<text transform="translate(783.25,672.50) scale(1.02,1)" text-anchor="middle" font-family='"Liberation Sans", sans-serif' font-size="17" font-weight="bold" font-style="normal" stroke="#000" stroke-width="0.22" >80</text>
<line x1="816.38" y1="650.50" x2="816.38" y2="653.50" stroke="#000" stroke-width="1.45"/>
<line x1="849.50" y1="650.50" x2="849.50" y2="656.00" stroke="#000" stroke-width="1.45"/>
<text transform="translate(849.50,672.50) scale(1.02,1)" text-anchor="middle" font-family='"Liberation Sans", sans-serif' font-size="17" font-weight="bold" font-style="normal" stroke="#000" stroke-width="0.22" >100</text>
<line x1="512.00" y1="650.50" x2="506.50" y2="650.50" stroke="#000" stroke-width="1.45"/>
<text transform="translate(503.30,656.10) scale(1.02,1)" text-anchor="end" font-family='"Liberation Sans", sans-serif' font-size="17" font-weight="bold" font-style="normal" stroke="#000" stroke-width="0.22" >0.0</text>
<line x1="512.00" y1="629.95" x2="509.00" y2="629.95" stroke="#000" stroke-width="1.45"/>
<line x1="512.00" y1="609.40" x2="506.50" y2="609.40" stroke="#000" stroke-width="1.45"/>
<text transform="translate(503.30,615.00) scale(1.02,1)" text-anchor="end" font-family='"Liberation Sans", sans-serif' font-size="17" font-weight="bold" font-style="normal" stroke="#000" stroke-width="0.22" >0.2</text>
<line x1="512.00" y1="588.85" x2="509.00" y2="588.85" stroke="#000" stroke-width="1.45"/>
<line x1="512.00" y1="568.30" x2="506.50" y2="568.30" stroke="#000" stroke-width="1.45"/>
<text transform="translate(503.30,573.80) scale(1.02,1)" text-anchor="end" font-family='"Liberation Sans", sans-serif' font-size="17" font-weight="bold" font-style="normal" stroke="#000" stroke-width="0.22" >0.4</text>
<line x1="512.00" y1="547.75" x2="509.00" y2="547.75" stroke="#000" stroke-width="1.45"/>
<line x1="512.00" y1="527.20" x2="506.50" y2="527.20" stroke="#000" stroke-width="1.45"/>
<text transform="translate(503.30,532.60) scale(1.02,1)" text-anchor="end" font-family='"Liberation Sans", sans-serif' font-size="17" font-weight="bold" font-style="normal" stroke="#000" stroke-width="0.22" >0.6</text>
<line x1="512.00" y1="506.65" x2="509.00" y2="506.65" stroke="#000" stroke-width="1.45"/>
<line x1="512.00" y1="486.10" x2="506.50" y2="486.10" stroke="#000" stroke-width="1.45"/>
<text transform="translate(503.30,491.40) scale(1.02,1)" text-anchor="end" font-family='"Liberation Sans", sans-serif' font-size="17" font-weight="bold" font-style="normal" stroke="#000" stroke-width="0.22" >0.8</text>
<line x1="512.00" y1="465.55" x2="509.00" y2="465.55" stroke="#000" stroke-width="1.45"/>
<line x1="512.00" y1="445.00" x2="506.50" y2="445.00" stroke="#000" stroke-width="1.45"/>
<text transform="translate(503.30,450.30) scale(1.02,1)" text-anchor="end" font-family='"Liberation Sans", sans-serif' font-size="17" font-weight="bold" font-style="normal" stroke="#000" stroke-width="0.22" >1.0</text>
<line x1="512.00" y1="424.45" x2="509.00" y2="424.45" stroke="#000" stroke-width="1.45"/>
<line x1="512.00" y1="403.90" x2="506.50" y2="403.90" stroke="#000" stroke-width="1.45"/>
<text transform="translate(503.30,408.90) scale(1.02,1)" text-anchor="end" font-family='"Liberation Sans", sans-serif' font-size="17" font-weight="bold" font-style="normal" stroke="#000" stroke-width="0.22" >1.2</text>
<text transform="translate(575.75,695.00) scale(1.078,1)" text-anchor="start" font-family='"Liberation Sans", sans-serif' font-size="16.5" font-weight="bold" font-style="normal" stroke="#000" stroke-width="0.22" >Peptide concentration (<tspan font-weight="normal" font-size="18.5">μ</tspan>M)</text>
<text transform="translate(466.00,623.50) rotate(-90) scale(1.078,1)" text-anchor="start" font-family='"Liberation Sans", sans-serif' font-size="16.5" font-weight="bold" font-style="normal" stroke="#000" stroke-width="0.22" >HDFa cell survival ratio</text>
<polyline points="518.20,444.50 535.00,454.70 601.20,470.00 684.10,487.20 849.70,485.80" fill="none" stroke="#000" stroke-width="1.9" stroke-linejoin="round"/>
<line x1="535.00" y1="448.50" x2="535.00" y2="460.70" stroke="#000" stroke-width="1.1"/>
<line x1="531.60" y1="448.50" x2="538.40" y2="448.50" stroke="#000" stroke-width="1.1"/>
<line x1="531.60" y1="460.70" x2="538.40" y2="460.70" stroke="#000" stroke-width="1.1"/>
<line x1="601.20" y1="463.50" x2="601.20" y2="475.90" stroke="#000" stroke-width="1.1"/>
<line x1="597.80" y1="463.50" x2="604.60" y2="463.50" stroke="#000" stroke-width="1.1"/>
<line x1="597.80" y1="475.90" x2="604.60" y2="475.90" stroke="#000" stroke-width="1.1"/>
<line x1="684.10" y1="482.50" x2="684.10" y2="492.00" stroke="#000" stroke-width="1.1"/>
<line x1="680.70" y1="482.50" x2="687.50" y2="482.50" stroke="#000" stroke-width="1.1"/>
<line x1="680.70" y1="492.00" x2="687.50" y2="492.00" stroke="#000" stroke-width="1.1"/>
<line x1="849.70" y1="480.70" x2="849.70" y2="491.00" stroke="#000" stroke-width="1.1"/>
<line x1="846.30" y1="480.70" x2="853.10" y2="480.70" stroke="#000" stroke-width="1.1"/>
<line x1="846.30" y1="491.00" x2="853.10" y2="491.00" stroke="#000" stroke-width="1.1"/>
<rect x="514.05" y="440.35" width="8.3" height="8.3" fill="#fff" stroke="#000" stroke-width="1.2"/>
<rect x="530.85" y="450.55" width="8.3" height="8.3" fill="#fff" stroke="#000" stroke-width="1.2"/>
<rect x="597.05" y="465.85" width="8.3" height="8.3" fill="#fff" stroke="#000" stroke-width="1.2"/>
<rect x="679.95" y="483.05" width="8.3" height="8.3" fill="#fff" stroke="#000" stroke-width="1.2"/>
<rect x="845.55" y="481.65" width="8.3" height="8.3" fill="#fff" stroke="#000" stroke-width="1.2"/>
<polyline points="518.20,444.50 535.00,484.50 601.20,485.60 684.10,496.20 849.70,504.30" fill="none" stroke="#000" stroke-width="1.9" stroke-linejoin="round"/>
<line x1="601.20" y1="479.60" x2="601.20" y2="491.60" stroke="#000" stroke-width="1.1"/>
<line x1="597.80" y1="479.60" x2="604.60" y2="479.60" stroke="#000" stroke-width="1.1"/>
<line x1="597.80" y1="491.60" x2="604.60" y2="491.60" stroke="#000" stroke-width="1.1"/>
<line x1="684.10" y1="490.60" x2="684.10" y2="501.80" stroke="#000" stroke-width="1.1"/>
<line x1="680.70" y1="490.60" x2="687.50" y2="490.60" stroke="#000" stroke-width="1.1"/>
<line x1="680.70" y1="501.80" x2="687.50" y2="501.80" stroke="#000" stroke-width="1.1"/>
<line x1="849.70" y1="498.60" x2="849.70" y2="510.00" stroke="#000" stroke-width="1.1"/>
<line x1="846.30" y1="498.60" x2="853.10" y2="498.60" stroke="#000" stroke-width="1.1"/>
<line x1="846.30" y1="510.00" x2="853.10" y2="510.00" stroke="#000" stroke-width="1.1"/>
<circle cx="518.20" cy="444.50" r="4.5" fill="#fff" stroke="#000" stroke-width="1.2"/>
<circle cx="535.00" cy="484.50" r="4.5" fill="#fff" stroke="#000" stroke-width="1.2"/>
<circle cx="601.20" cy="485.60" r="4.5" fill="#fff" stroke="#000" stroke-width="1.2"/>
<circle cx="684.10" cy="496.20" r="4.5" fill="#fff" stroke="#000" stroke-width="1.2"/>
<circle cx="849.70" cy="504.30" r="4.5" fill="#fff" stroke="#000" stroke-width="1.2"/>
<polyline points="518.20,444.70 535.00,484.00 601.20,490.00 684.10,517.30 849.70,537.40" fill="none" stroke="#000" stroke-width="1.9" stroke-linejoin="round"/>
<line x1="518.20" y1="436.90" x2="518.20" y2="451.90" stroke="#000" stroke-width="1.1"/>
<line x1="514.80" y1="436.90" x2="521.60" y2="436.90" stroke="#000" stroke-width="1.1"/>
<line x1="514.80" y1="451.90" x2="521.60" y2="451.90" stroke="#000" stroke-width="1.1"/>
<line x1="535.00" y1="477.75" x2="535.00" y2="490.30" stroke="#000" stroke-width="1.1"/>
<line x1="531.60" y1="477.75" x2="538.40" y2="477.75" stroke="#000" stroke-width="1.1"/>
<line x1="531.60" y1="490.30" x2="538.40" y2="490.30" stroke="#000" stroke-width="1.1"/>
<line x1="601.20" y1="484.00" x2="601.20" y2="496.00" stroke="#000" stroke-width="1.1"/>
<line x1="597.80" y1="484.00" x2="604.60" y2="484.00" stroke="#000" stroke-width="1.1"/>
<line x1="597.80" y1="496.00" x2="604.60" y2="496.00" stroke="#000" stroke-width="1.1"/>
<line x1="684.10" y1="513.00" x2="684.10" y2="522.00" stroke="#000" stroke-width="1.1"/>
<line x1="680.70" y1="513.00" x2="687.50" y2="513.00" stroke="#000" stroke-width="1.1"/>
<line x1="680.70" y1="522.00" x2="687.50" y2="522.00" stroke="#000" stroke-width="1.1"/>
<line x1="849.70" y1="534.00" x2="849.70" y2="541.00" stroke="#000" stroke-width="1.1"/>
<line x1="846.30" y1="534.00" x2="853.10" y2="534.00" stroke="#000" stroke-width="1.1"/>
<line x1="846.30" y1="541.00" x2="853.10" y2="541.00" stroke="#000" stroke-width="1.1"/>
<polygon points="518.20,438.30 512.85,447.50 523.55,447.50" fill="#fff" stroke="#000" stroke-width="1.3" stroke-linejoin="miter"/>
<polygon points="535.00,477.60 529.65,486.80 540.35,486.80" fill="#fff" stroke="#000" stroke-width="1.3" stroke-linejoin="miter"/>
<polygon points="601.20,483.60 595.85,492.80 606.55,492.80" fill="#fff" stroke="#000" stroke-width="1.3" stroke-linejoin="miter"/>
<polygon points="684.10,510.90 678.75,520.10 689.45,520.10" fill="#fff" stroke="#000" stroke-width="1.3" stroke-linejoin="miter"/>
<polygon points="849.70,531.00 844.35,540.20 855.05,540.20" fill="#fff" stroke="#000" stroke-width="1.3" stroke-linejoin="miter"/>
<line x1="564.25" y1="558.75" x2="593.00" y2="558.75" stroke="#000" stroke-width="1.9"/>
<rect x="574.58" y="554.70" width="8.1" height="8.1" fill="#fff" stroke="#000" stroke-width="1.2"/>
<text transform="translate(595.40,563.75) scale(1.067,1)" text-anchor="start" font-family='"Liberation Sans", sans-serif' font-size="16.8" font-weight="bold" font-style="normal" stroke="#000" stroke-width="0.22" >G(IIKK)<tspan font-size="12.3" dy="3.3">2</tspan><tspan dy="-3.3">I-NH</tspan><tspan font-size="12.3" dy="3.3">2</tspan></text>
<line x1="564.25" y1="582.60" x2="593.00" y2="582.60" stroke="#000" stroke-width="1.9"/>
<circle cx="578.62" cy="582.60" r="4.4" fill="#fff" stroke="#000" stroke-width="1.2"/>
<text transform="translate(595.40,587.00) scale(1.067,1)" text-anchor="start" font-family='"Liberation Sans", sans-serif' font-size="16.8" font-weight="bold" font-style="normal" stroke="#000" stroke-width="0.22" >G(IIKK)<tspan font-size="12.3" dy="3.3">3</tspan><tspan dy="-3.3">I-NH</tspan><tspan font-size="12.3" dy="3.3">2</tspan></text>
<line x1="564.25" y1="606.00" x2="593.00" y2="606.00" stroke="#000" stroke-width="1.9"/>
<polygon points="578.62,600.00 573.27,609.10 583.98,609.10" fill="#fff" stroke="#000" stroke-width="1.3" stroke-linejoin="miter"/>
<text transform="translate(595.40,610.50) scale(1.067,1)" text-anchor="start" font-family='"Liberation Sans", sans-serif' font-size="16.8" font-weight="bold" font-style="normal" stroke="#000" stroke-width="0.22" >G(IIKK)<tspan font-size="12.3" dy="3.3">4</tspan><tspan dy="-3.3">I-NH</tspan><tspan font-size="12.3" dy="3.3">2</tspan></text>
</svg></body></html>
